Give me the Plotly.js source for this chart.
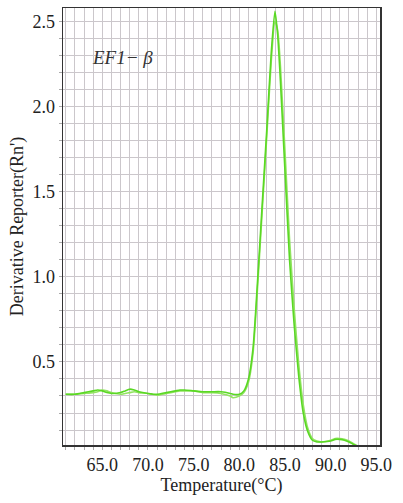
<!DOCTYPE html>
<html>
<head>
<meta charset="utf-8">
<script src="https://cdn.plot.ly/plotly-3.0.1.min.js"></script>
<style>html,body{margin:0;padding:0;background:#fff;}#chart{width:403px;height:503px;}</style>
</head>
<body>
<div id="chart"></div>
<script>
// Temperature (°C)
const temperature = [61, 62, 63, 64, 64.5, 65, 65.5, 66, 67, 67.5, 68, 68.5, 69, 70, 71, 72, 73, 73.5, 74, 75, 76, 77, 78, 79, 79.3, 80, 80.5, 81, 81.5, 82, 82.5, 83, 83.5, 83.9, 84.2, 84.5, 85, 85.5, 86, 86.5, 87, 87.5, 88, 88.5, 89, 90, 90.5, 91, 91.5, 92, 92.5, 92.9];
// Derivative reporter, replicate 1
const replicate1 = [0.31, 0.31, 0.32, 0.33, 0.335, 0.33, 0.32, 0.315, 0.32, 0.33, 0.34, 0.335, 0.325, 0.315, 0.31, 0.32, 0.33, 0.335, 0.335, 0.33, 0.325, 0.325, 0.325, 0.315, 0.31, 0.31, 0.33, 0.40, 0.58, 0.98, 1.42, 1.86, 2.32, 2.56, 2.42, 2.15, 1.62, 1.10, 0.72, 0.42, 0.20, 0.09, 0.04, 0.03, 0.03, 0.035, 0.045, 0.045, 0.04, 0.03, 0.015, 0.005];
// Derivative reporter, replicate 2
const replicate2 = [0.31, 0.31, 0.315, 0.32, 0.325, 0.335, 0.33, 0.32, 0.31, 0.315, 0.32, 0.325, 0.32, 0.315, 0.305, 0.315, 0.325, 0.33, 0.33, 0.33, 0.32, 0.32, 0.315, 0.30, 0.29, 0.30, 0.32, 0.38, 0.55, 0.94, 1.38, 1.82, 2.27, 2.50, 2.45, 2.24, 1.74, 1.22, 0.82, 0.49, 0.25, 0.11, 0.05, 0.035, 0.03, 0.04, 0.05, 0.05, 0.045, 0.035, 0.02, 0.008];
const xTickVals = [65, 70, 75, 80, 85, 90, 95];
const xTickText = ["65.0", "70.0", "75.0", "80.0", "85.0", "90.0", "95.0"];
const yTickVals = [0.5, 1.0, 1.5, 2.0, 2.5];
const yTickText = ["0.5", "1.0", "1.5", "2.0", "2.5"];

const traces = [
  {x: temperature, y: replicate2, type: 'scatter', mode: 'lines', line: {color: '#93e462', width: 1.6, shape: 'spline', smoothing: 0.6}, hoverinfo: 'skip'},
  {x: temperature, y: replicate1, type: 'scatter', mode: 'lines', line: {color: '#5ad824', width: 1.6, shape: 'spline', smoothing: 0.6}, hoverinfo: 'skip'}
];

const fam = '"Liberation Serif", "Times New Roman", serif';
const layout = {
  width: 403, height: 503,
  margin: {l: 63, r: 23, t: 8, b: 58},
  paper_bgcolor: '#fff', plot_bgcolor: '#fff',
  showlegend: false,
  font: {family: fam, size: 18, color: '#222'},
  xaxis: {
    range: [60.7, 95.4],
    tickvals: xTickVals, ticktext: xTickText,
    showgrid: true, gridcolor: '#cbc7cb', gridwidth: 1,
    minor: {dtick: 1, tick0: 61, showgrid: true, gridcolor: '#cbc7cb', gridwidth: 1, ticks: 'outside', ticklen: 3, tickcolor: '#aaa'},
    ticks: 'outside', ticklen: 3, tickcolor: '#aaa',
    showline: true, linecolor: '#333', linewidth: 1.5, mirror: true,
    zeroline: false,
    tickfont: {family: fam, size: 18, color: '#222'},
    title: {text: 'Temperature(°C)', font: {family: fam, size: 18, color: '#222'}, standoff: 2}
  },
  yaxis: {
    range: [0.012, 2.58],
    tickvals: yTickVals, ticktext: yTickText,
    showgrid: true, gridcolor: '#cbc7cb', gridwidth: 1,
    minor: {dtick: 0.1, tick0: 0, showgrid: true, gridcolor: '#cbc7cb', gridwidth: 1, ticks: 'outside', ticklen: 3, tickcolor: '#aaa'},
    ticks: 'outside', ticklen: 3, tickcolor: '#aaa',
    showline: true, linecolor: '#333', linewidth: 1.5, mirror: true,
    zeroline: false,
    tickfont: {family: fam, size: 18, color: '#222'},
    title: {text: "Derivative Reporter(Rn')", font: {family: fam, size: 18, color: '#222'}, standoff: 4}
  },
  annotations: [{
    xref: 'paper', yref: 'paper', x: 0.084, y: 0.886, xanchor: 'left', yanchor: 'middle',
    text: '<i>EF1− β</i>', showarrow: false,
    font: {family: fam, size: 19, color: '#333'}
  }]
};
Plotly.newPlot('chart', traces, layout, {displayModeBar: false, staticPlot: true});
</script>
</body>
</html>
